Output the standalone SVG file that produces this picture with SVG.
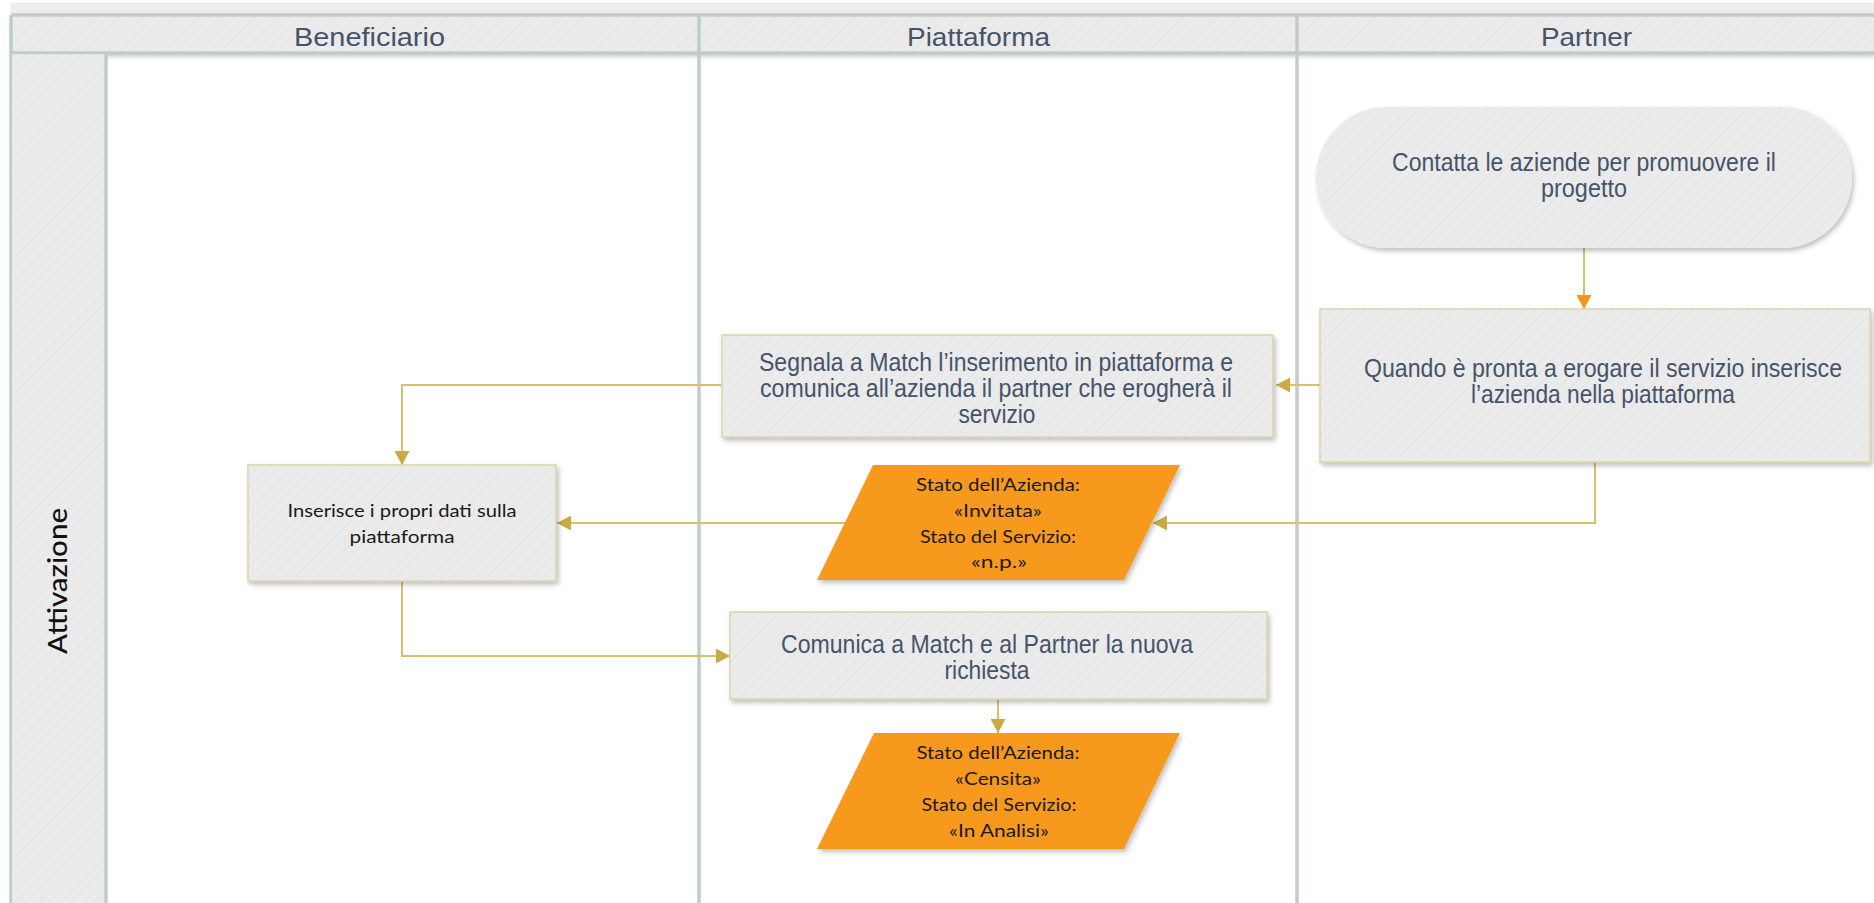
<svg xmlns="http://www.w3.org/2000/svg" width="1874" height="903" viewBox="0 0 1874 903">
<style>
.lane{stroke:#bfccc8;stroke-width:3.5;fill:none}
.hdr{font-family:"Liberation Sans Narrow","Liberation Sans",Arial,sans-serif;font-size:25px;fill:#44546a}
.t{font-family:"Liberation Sans Narrow","Liberation Sans",Arial,sans-serif;font-size:25px;fill:#44546a;text-anchor:middle}
.c{font-family:Lato,"Noto Sans",Arial,sans-serif;font-size:17px;fill:#1a1a1a;text-anchor:middle}
.box{fill:url(#hatch);stroke:#ddd3a8;stroke-width:1.5;filter:url(#sh)}
.para{fill:#f7991d;filter:url(#sh)}
.con{fill:none;stroke:#d9c06c;stroke-width:2}
</style>
<defs>
<pattern id="hatch" width="8" height="8" patternUnits="userSpaceOnUse" patternTransform="rotate(45)">
<rect width="8" height="8" fill="#ebebeb"/>
<line x1="0" y1="0" x2="0" y2="8" stroke="#e4e4e4" stroke-width="2"/>
</pattern>
<filter id="sh" x="-10%" y="-10%" width="125%" height="130%">
<feDropShadow dx="2" dy="3" stdDeviation="2.5" flood-color="#000" flood-opacity="0.25"/>
</filter>
<marker id="ag" markerWidth="15" markerHeight="15" refX="14" refY="7.5" orient="auto" markerUnits="userSpaceOnUse">
<path d="M0,0 L14,7.5 L0,15 z" fill="#c9aa45"/>
</marker>
<marker id="ao" markerWidth="15" markerHeight="15" refX="14" refY="7.5" orient="auto" markerUnits="userSpaceOnUse">
<path d="M0,0 L14,7.5 L0,15 z" fill="#f7941d"/>
</marker>
</defs>
<rect width="1874" height="903" fill="#ffffff"/>
<g id="pool">
<rect x="11" y="3" width="1863" height="12" fill="#ededed"/>
<rect x="11" y="15" width="1863" height="38" fill="url(#hatch)" filter="url(#sh)"/>
<line x1="11" y1="15" x2="1874" y2="15" class="lane" stroke-width="2.5"/>
<line x1="11" y1="53" x2="1874" y2="53" class="lane" stroke-width="2.5"/>
<line x1="11" y1="15" x2="11" y2="903" class="lane" stroke-width="3"/>
<rect x="12" y="54" width="93" height="849" fill="url(#hatch)"/>
<line x1="106" y1="53" x2="106" y2="903" class="lane" stroke-width="4.5"/>
<line x1="699" y1="15" x2="699" y2="903" class="lane"/>
<line x1="1297" y1="15" x2="1297" y2="903" class="lane"/>
<text class="hdr" x="294" y="46" textLength="151" lengthAdjust="spacingAndGlyphs">Beneficiario</text>
<text class="hdr" x="907" y="46" textLength="143" lengthAdjust="spacingAndGlyphs">Piattaforma</text>
<text class="hdr" x="1541" y="46" textLength="91" lengthAdjust="spacingAndGlyphs">Partner</text>
<text font-family="Lato,'Noto Sans',Arial,sans-serif" font-size="26" font-weight="500" fill="#111" text-anchor="middle" transform="translate(67,581) rotate(-90)" textLength="146" lengthAdjust="spacingAndGlyphs">Attivazione</text>
</g>
<g id="connectors">
<path class="con" d="M1584,248 V309" stroke="#f7941d" stroke-width="2.5" marker-end="url(#ao)"/>
<path class="con" d="M1320,385 H1276" marker-end="url(#ag)"/>
<path class="con" d="M721,385 H402 V465" marker-end="url(#ag)"/>
<path class="con" d="M1595,462 V523 H1153" marker-end="url(#ag)"/>
<path class="con" d="M845,523 H557" marker-end="url(#ag)"/>
<path class="con" d="M402,581 V656 H730" marker-end="url(#ag)"/>
<path class="con" d="M998,699 V733" marker-end="url(#ag)"/>
</g>
<g id="n_contatta">
<rect x="1316" y="107" width="536" height="141" rx="70.5" ry="70.5" fill="url(#hatch)" filter="url(#sh)"/>
<text class="t" x="1584" y="171" textLength="384" lengthAdjust="spacingAndGlyphs">Contatta le aziende per promuovere il</text>
<text class="t" x="1584" y="197" textLength="86" lengthAdjust="spacingAndGlyphs">progetto</text>
</g>
<g id="n_quando">
<rect class="box" x="1320" y="309" width="550" height="153"/>
<text class="t" x="1603" y="377" textLength="478" lengthAdjust="spacingAndGlyphs">Quando è pronta a erogare il servizio inserisce</text>
<text class="t" x="1603" y="403" textLength="264" lengthAdjust="spacingAndGlyphs">l’azienda nella piattaforma</text>
</g>
<g id="n_segnala">
<rect class="box" x="722" y="335" width="551" height="102"/>
<text class="t" x="996" y="371" textLength="474" lengthAdjust="spacingAndGlyphs">Segnala a Match l’inserimento in piattaforma e</text>
<text class="t" x="996" y="397" textLength="472" lengthAdjust="spacingAndGlyphs">comunica all’azienda il partner che erogherà il</text>
<text class="t" x="997" y="423" textLength="77" lengthAdjust="spacingAndGlyphs">servizio</text>
</g>
<g id="n_inserisce">
<rect class="box" x="248" y="465" width="308" height="116"/>
<text class="c" x="402" y="517" textLength="229" lengthAdjust="spacingAndGlyphs">Inserisce i propri dati sulla</text>
<text class="c" x="402" y="543" textLength="105" lengthAdjust="spacingAndGlyphs">piattaforma</text>
</g>
<g id="n_stato1">
<polygon class="para" points="873,465 1180,465 1124,580 817,580"/>
<text class="c" x="998" y="491" textLength="164" lengthAdjust="spacingAndGlyphs">Stato dell’Azienda:</text>
<text class="c" x="998" y="517" textLength="88" lengthAdjust="spacingAndGlyphs">«Invitata»</text>
<text class="c" x="998" y="543" textLength="156" lengthAdjust="spacingAndGlyphs">Stato del Servizio:</text>
<text class="c" x="999" y="568" textLength="56" lengthAdjust="spacingAndGlyphs">«n.p.»</text>
</g>
<g id="n_comunica">
<rect class="box" x="730" y="612" width="537" height="87"/>
<text class="t" x="987" y="653" textLength="412" lengthAdjust="spacingAndGlyphs">Comunica a Match e al Partner la nuova</text>
<text class="t" x="987" y="679" textLength="85" lengthAdjust="spacingAndGlyphs">richiesta</text>
</g>
<g id="n_stato2">
<polygon class="para" points="874,733 1180,733 1124,849 817,849"/>
<text class="c" x="998" y="759" textLength="163" lengthAdjust="spacingAndGlyphs">Stato dell’Azienda:</text>
<text class="c" x="998" y="785" textLength="86" lengthAdjust="spacingAndGlyphs">«Censita»</text>
<text class="c" x="999" y="811" textLength="155" lengthAdjust="spacingAndGlyphs">Stato del Servizio:</text>
<text class="c" x="999" y="837" textLength="100" lengthAdjust="spacingAndGlyphs">«In Analisi»</text>
</g>
</svg>
